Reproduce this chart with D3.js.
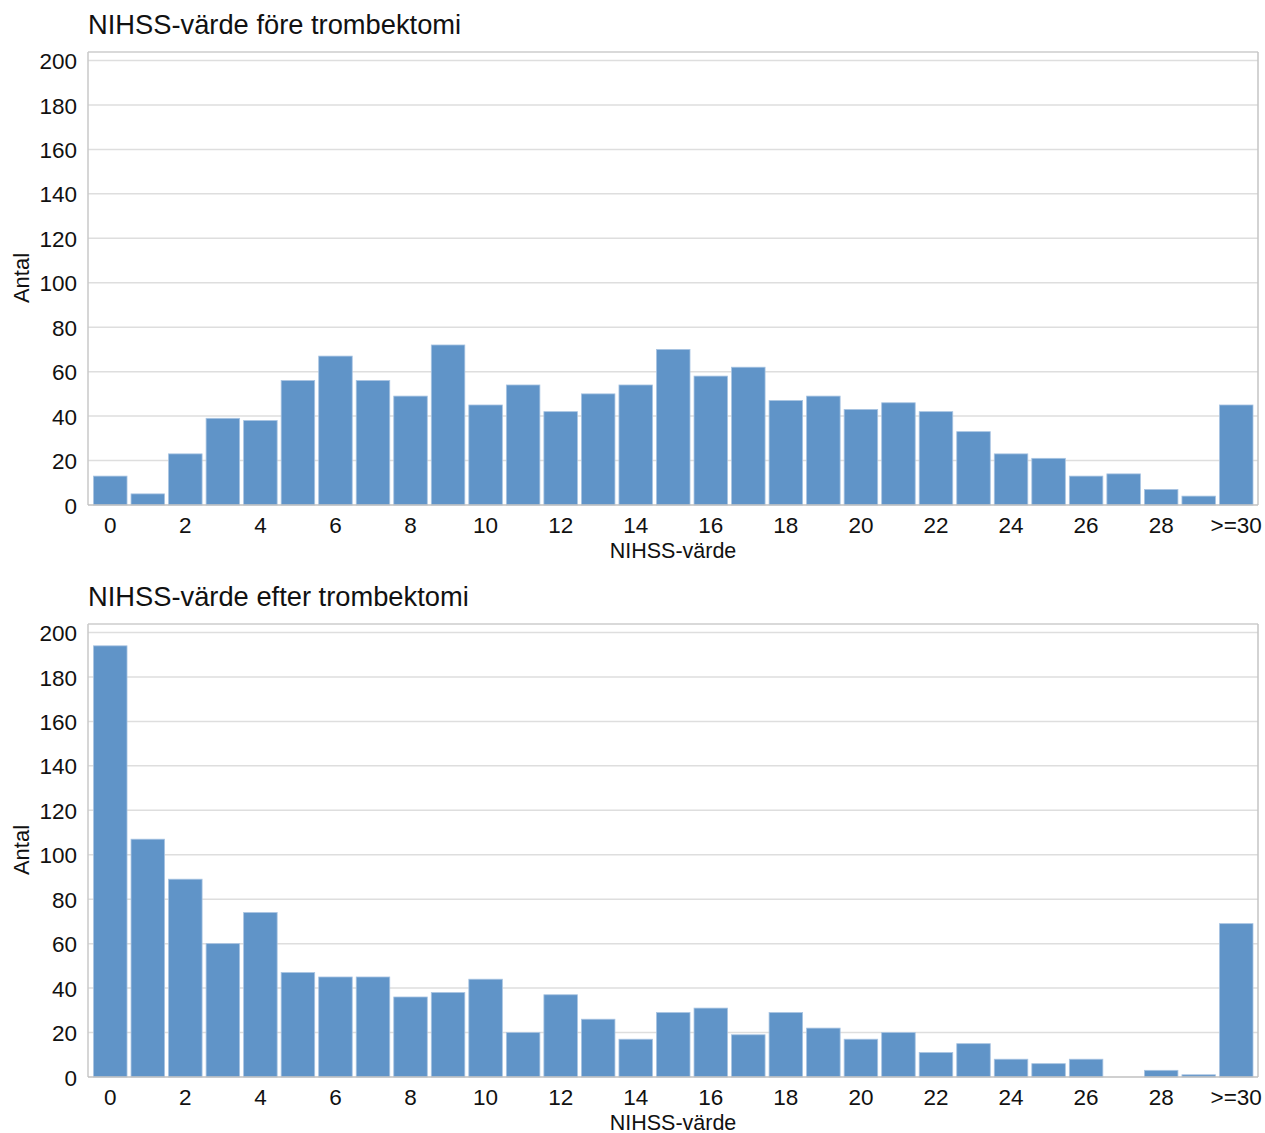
<!DOCTYPE html>
<html>
<head>
<meta charset="utf-8">
<script src="https://cdn.jsdelivr.net/npm/d3@7"></script>
<style>
  html, body { margin: 0; padding: 0; background: #fff; }
  svg { display: block; font-family: "Liberation Sans", Arial, sans-serif; }
</style>
</head>
<body>
<svg id="chart" width="1265" height="1133"></svg>
<script>
const categories = ["0","1","2","3","4","5","6","7","8","9","10","11","12","13","14","15","16","17","18","19","20","21","22","23","24","25","26","27","28","29",">=30"];
const tickLabels = ["0","2","4","6","8","10","12","14","16","18","20","22","24","26","28",">=30"];
const yTicks = [0,20,40,60,80,100,120,140,160,180,200];
const beforeValues = [13,5,23,39,38,56,67,56,49,72,45,54,42,50,54,70,58,62,47,49,43,46,42,33,23,21,13,14,7,4,45];
const afterValues = [194,107,89,60,74,47,45,45,36,38,44,20,37,26,17,29,31,19,29,22,17,20,11,15,8,6,8,0,3,1,69];
const titles = ["NIHSS-värde före trombektomi", "NIHSS-värde efter trombektomi"];
const xTitle = "NIHSS-värde";
const yTitle = "Antal";

const svg = d3.select("#chart");
const barFill = "#6094c8";
const barStroke = "#a8c4e2";

function panel(values, title, top) {
  const frameTop = top + 52;
  const y0 = top + 505, y200 = top + 60.5;
  const left = 88, right = 1258;
  const g = svg.append("g");
  const x = d3.scaleBand().domain(categories).range([91.5, 1255]).paddingInner(0.107).paddingOuter(0.0535);
  const y = d3.scaleLinear().domain([0, 200]).range([y0, y200]);

  // gridlines
  g.append("g").selectAll("line").data(yTicks.filter(d => d > 0)).join("line")
    .attr("x1", left).attr("x2", right)
    .attr("y1", d => y(d)).attr("y2", d => y(d))
    .attr("stroke", "#dedede").attr("stroke-width", 1.5);

  // frame top/right
  g.append("line").attr("x1", left).attr("x2", right).attr("y1", frameTop).attr("y2", frameTop)
    .attr("stroke", "#b4b4b4").attr("stroke-width", 1.2);
  g.append("line").attr("x1", right).attr("x2", right).attr("y1", frameTop).attr("y2", y0)
    .attr("stroke", "#c4c4c4").attr("stroke-width", 1.5);

  // bars
  g.append("g").selectAll("rect").data(values).join("rect")
    .attr("x", (d, i) => x(categories[i]))
    .attr("y", d => y(d))
    .attr("width", x.bandwidth())
    .attr("height", d => y0 - y(d))
    .attr("fill", barFill)
    .attr("stroke", d => d > 0 ? barStroke : "none")
    .attr("stroke-width", 0.8);

  // axis lines
  g.append("line").attr("x1", left).attr("x2", left).attr("y1", frameTop).attr("y2", y0)
    .attr("stroke", "#c8c8c8").attr("stroke-width", 1.5);
  g.append("line").attr("x1", left).attr("x2", right).attr("y1", y0).attr("y2", y0)
    .attr("stroke", "#c0c0c0").attr("stroke-width", 1.5);

  // y axis labels via d3 axis
  const yAxis = d3.axisLeft(y).tickValues(yTicks).tickSize(0).tickPadding(0);
  const ya = g.append("g").attr("transform", `translate(77,0)`).call(yAxis);
  ya.select(".domain").remove();
  ya.selectAll("text").attr("font-size", "22.5px").attr("fill", "#111")
    .attr("font-family", "'Liberation Sans', Arial, sans-serif").attr("dy", "0.36em");

  // x axis labels
  const xAxis = d3.axisBottom(x).tickValues(tickLabels).tickSize(0).tickPadding(0);
  const xa = g.append("g").attr("transform", `translate(0,${y0})`).call(xAxis);
  xa.select(".domain").remove();
  xa.selectAll("text").attr("font-size", "22.5px").attr("fill", "#111")
    .attr("font-family", "'Liberation Sans', Arial, sans-serif").attr("dy", null).attr("y", 28);

  // titles
  g.append("text").attr("x", 88).attr("y", top + 34).attr("font-size", "27.3px").attr("fill", "#111").text(title);
  g.append("text").attr("x", 673).attr("y", top + 557.5).attr("text-anchor", "middle")
    .attr("font-size", "21.5px").attr("fill", "#111").text(xTitle);
  g.append("text").attr("transform", `translate(29,${top + 278}) rotate(-90)`).attr("text-anchor", "middle")
    .attr("font-size", "22px").attr("fill", "#111").text(yTitle);
}

panel(beforeValues, titles[0], 0);
panel(afterValues, titles[1], 572);
</script>
</body>
</html>
